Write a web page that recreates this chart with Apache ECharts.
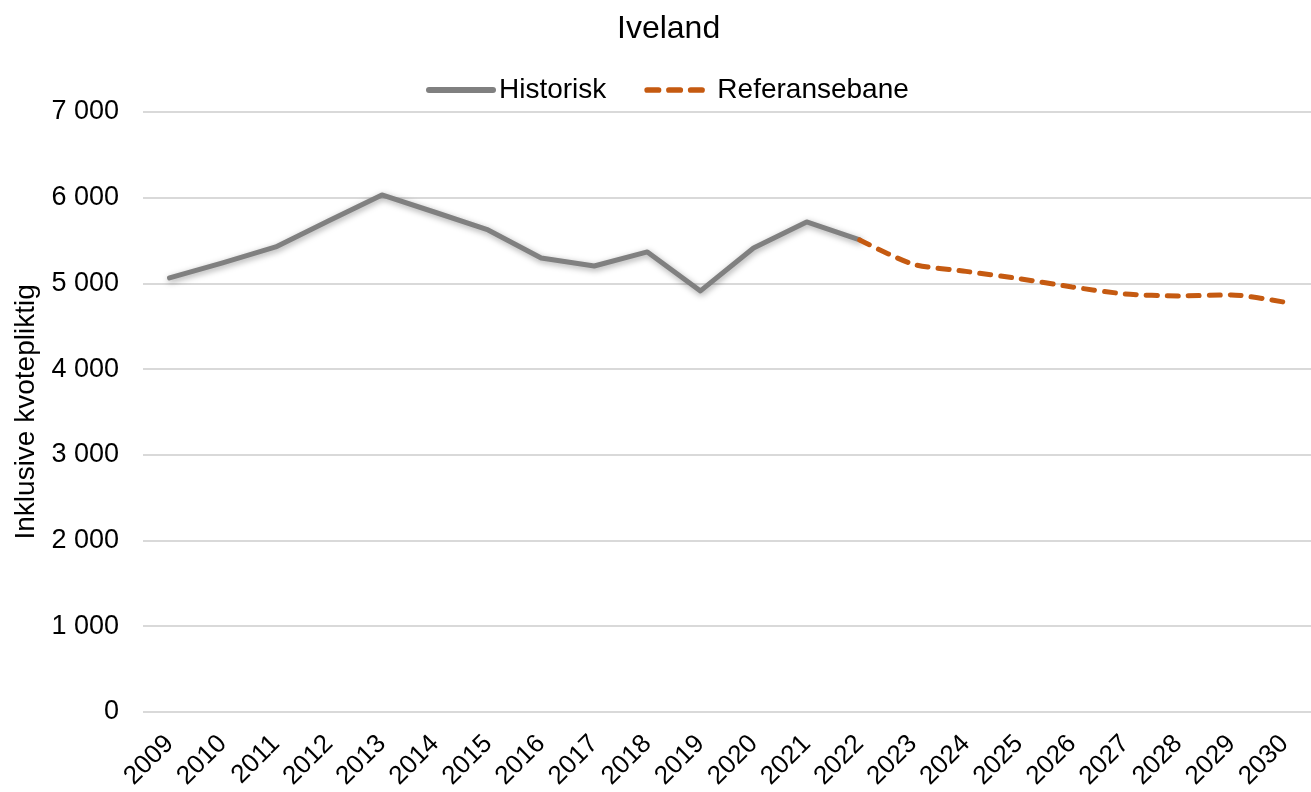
<!DOCTYPE html>
<html>
<head>
<meta charset="utf-8">
<script src="https://cdn.jsdelivr.net/npm/echarts@6/dist/echarts.min.js"></script>
<style>
  html, body { margin: 0; padding: 0; background: #fff; }
  #chart { width: 1311px; height: 792px; }
</style>
</head>
<body>
<div id="chart"></div>
<script>
var years = ['2009','2010','2011','2012','2013','2014','2015','2016','2017','2018','2019',
             '2020','2021','2022','2023','2024','2025','2026','2027','2028','2029','2030'];
// historisk utslipp
var historisk = [5063, 5240, 5425, 5730, 6032, 5830, 5623, 5297, 5203, 5367, 4912,
                 5413, 5717, 5507, null, null, null, null, null, null, null, null];
// referansebane fra 2022
var referanse = [null, null, null, null, null, null, null, null, null, null, null,
                 null, null, 5507, 5225, 5140, 5055, 4958, 4877, 4853, 4865, 4780];
var yTicks = [0, 1000, 2000, 3000, 4000, 5000, 6000, 7000];

var font = '"Liberation Sans", Arial, sans-serif';
var myChart = echarts.init(document.getElementById('chart'));
var option = {
    animation: false,
    title: {
        text: 'Iveland',
        left: 612,
        top: 8,
        textStyle: { fontFamily: font, fontSize: 32, fontWeight: 'normal', color: '#000' }
    },
    legend: {
        top: 71,
        left: 421,
        itemWidth: 70,
        itemHeight: 6,
        itemGap: 38,
        textStyle: { fontFamily: font, fontSize: 28, color: '#000', padding: [0, 0, 0, -2] },
        data: [
            { name: 'Historisk', icon: 'path://M3,0h64a3,3 0 0 1 0,6h-64a3,3 0 0 1 0,-6z' },
            { name: 'Referansebane', icon: 'path://M3,0h12a3,3 0 0 1 0,6h-12a3,3 0 0 1 0,-6zM26,0h12a3,3 0 0 1 0,6h-12a3,3 0 0 1 0,-6zM49,0h12a3,3 0 0 1 0,6h-12a3,3 0 0 1 0,-6zM74,0v6z' }
        ]
    },
    grid: { left: 143, top: 112, width: 1184, bottom: 80 },
    xAxis: {
        type: 'category',
        data: years,
        boundaryGap: true,
        axisLine: { show: false },
        axisTick: { show: false },
        axisLabel: {
            rotate: 45, interval: 0, margin: 28,
            fontFamily: font, fontSize: 26, color: '#000'
        }
    },
    yAxis: {
        type: 'value',
        min: yTicks[0],
        max: yTicks[yTicks.length - 1],
        interval: 1000,
        name: 'Inklusive kvotepliktig',
        nameLocation: 'middle',
        nameGap: 93,
        nameTextStyle: { fontFamily: font, fontSize: 28, color: '#000' },
        axisLine: { show: false },
        axisTick: { show: false },
        splitLine: { lineStyle: { color: '#d9d9d9', width: 2 } },
        axisLabel: {
            margin: 24,
            fontFamily: font, fontSize: 27, color: '#000',
            formatter: function (v) {
                return String(v).replace(/\B(?=(\d{3})+(?!\d))/g, ' ');
            }
        }
    },
    series: [
        {
            name: 'Historisk',
            type: 'line',
            data: historisk,
            symbol: 'none',
            color: '#808080',
            lineStyle: {
                color: '#808080', width: 5, cap: 'round', join: 'round',
                shadowColor: 'rgba(0,0,0,0.35)', shadowBlur: 6, shadowOffsetX: 1, shadowOffsetY: 2
            },
            z: 2
        },
        {
            name: 'Referansebane',
            type: 'line',
            data: referanse,
            symbol: 'none',
            smooth: 0.25,
            color: '#c55a11',
            lineStyle: {
                color: '#c55a11', width: 5, type: [11, 10], cap: 'round'
            },
            z: 3
        }
    ]
};
myChart.setOption(option);
</script>
</body>
</html>
